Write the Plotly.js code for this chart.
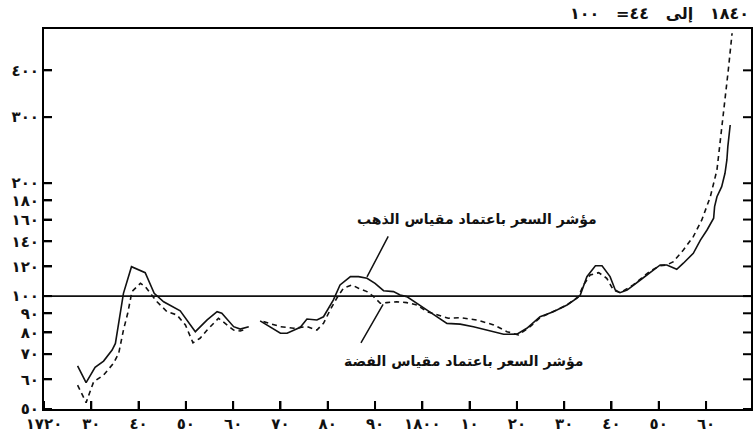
<!DOCTYPE html>
<html>
<head>
<meta charset="utf-8">
<script src="https://cdn.plot.ly/plotly-3.0.1.min.js"></script>
<style>
  html, body { margin: 0; padding: 0; background: #fff; }
  #chart { width: 754px; height: 443px; }
</style>
</head>
<body>
<div id="chart"></div>
<script>
// ---- data ----
const goldYears = [1727.1, 1728.9, 1730.8, 1732.6, 1734.4, 1735.1, 1736.8, 1738.5, 1741.4, 1743.3, 1745.3, 1748.1, 1748.8, 1752.0, 1754.5, 1756.6, 1757.6, 1760.1, 1761.5, 1763.3,
  1764.5,
  1765.7, 1767.8, 1770.0, 1771.4, 1774.2, 1775.6, 1777.7, 1779.1, 1781.2, 1782.6, 1784.8, 1786.5, 1788.3, 1790.0, 1791.8, 1793.9, 1795.3, 1796.7, 1798.9,
  1801.0, 1805.2, 1808.0, 1810.8, 1817.2, 1820.0, 1822.1, 1824.9, 1827.7, 1830.6, 1832.7, 1833.4, 1834.8, 1836.6, 1838.0, 1839.7, 1840.8, 1841.8, 1843.3,
  1846.1, 1848.9, 1850.3, 1851.7, 1853.8, 1855.2, 1857.3, 1858.8, 1860.2, 1861.6, 1861.8, 1862.3, 1863.3, 1864.0, 1864.4, 1864.6, 1864.9, 1865.1];
const goldValues = [65.2, 58.8, 64.6, 67.1, 71.8, 74.8, 101.7, 119.8, 115.5, 101.7, 96.6, 92.2, 91.4, 80.4, 86.4, 90.9, 90.0, 82.9, 81.7, 82.9,
  null,
  85.9, 82.9, 79.6, 79.6, 82.6, 86.9, 86.4, 88.1, 97.7, 107.1, 112.7, 112.7, 111.6, 108.2, 103.4, 102.8, 100.7, 99.7, 95.7,
  91.8, 84.6, 84.2, 82.9, 79.1, 79.2, 82.1, 88.1, 90.9, 94.7, 98.7, 100.7, 112.7, 120.5, 120.5, 112.7, 103.8, 102.1, 103.8,
  110.4, 117.4, 121.1, 121.1, 117.9, 122.4, 130.1, 141.1, 150.1, 161.3, 173.2, 184.1, 195.8, 212.6, 230.7, 250.3, 272.3, 286.0];

const silverYears = [1727.1, 1728.9, 1730.5, 1732.6, 1734.7, 1735.8, 1736.8, 1737.7, 1738.6, 1740.4, 1741.4, 1742.5, 1743.9, 1746.0, 1748.1, 1749.9, 1751.5, 1753.0, 1754.5, 1756.9, 1758.7, 1760.1, 1761.5, 1762.6,
  1764.5,
  1766.4, 1770.0, 1772.8, 1774.2, 1775.6, 1777.7, 1779.1, 1780.5, 1781.9, 1783.3, 1785.1, 1786.5, 1788.3, 1789.7, 1791.1, 1792.5, 1794.6, 1796.7, 1798.9,
  1801.0, 1805.5, 1808.0, 1811.5, 1815.1, 1817.9, 1820.3, 1822.8, 1824.9, 1827.7, 1830.6, 1833.0, 1834.1, 1835.5, 1837.3, 1839.0, 1840.4, 1841.8, 1844.6,
  1848.2, 1850.3, 1851.7, 1853.1, 1855.2, 1857.3, 1859.1, 1860.9, 1862.3, 1863.3, 1864.0, 1864.7, 1865.5];
const silverValues = [57.9, 52.0, 59.1, 61.6, 66.2, 70.4, 81.2, 90.0, 102.8, 108.2, 106.0, 101.7, 96.6, 90.9, 89.1, 83.8, 75.1, 77.2, 81.2, 87.3, 83.8, 81.2, 80.7, 81.7,
  null,
  85.5, 82.9, 82.1, 82.5, 82.9, 81.2, 84.6, 91.8, 98.7, 104.9, 107.1, 104.9, 102.8, 99.7, 95.7, 96.1, 96.6, 96.1, 94.7,
  90.9, 87.3, 87.6, 86.4, 83.8, 80.4, 78.8, 82.9, 87.6, 90.9, 94.7, 99.7, 107.1, 113.9, 115.5, 111.6, 103.8, 102.1, 107.1,
  116.7, 120.5, 121.1, 123.6, 132.7, 144.1, 159.6, 184.1, 216.9, 277.3, 326.8, 400.9, 502.2];

const baseYears = [1720, 1870];
const baseValues = [100, 100];

const xTickVals = [1720, 1730, 1740, 1750, 1760, 1770, 1780, 1790, 1800, 1810, 1820, 1830, 1840, 1850, 1860];
const xTickText = ['١٧٢٠', '٣٠', '٤٠', '٥٠', '٦٠', '٧٠', '٨٠', '٩٠', '١٨٠٠', '١٠', '٢٠', '٣٠', '٤٠', '٥٠', '٦٠'];
const yTickVals = [50, 60, 70, 80, 90, 100, 120, 140, 160, 180, 200, 300, 400];
const yTickText = ['٥٠', '٦٠', '٧٠', '٨٠', '٩٠', '١٠٠', '١٢٠', '١٤٠', '١٦٠', '١٨٠', '٢٠٠', '٣٠٠', '٤٠٠'];

const titleText = '١٨٤٠\u00A0\u00A0 إلى\u00A0\u00A0 ٤٤=\u00A0\u00A0 ١٠٠';
const goldLabel = 'مؤشر السعر باعتماد مقياس الذهب';
const silverLabel = 'مؤشر السعر باعتماد مقياس الفضة';

// ---- chart ----
const FONT = 'DejaVu Sans, Noto Sans, sans-serif';
const W = 754, H = 443;
const M = { l: 44, r: 3, t: 29, b: 34 };
const xRange = [1720, 1869.5];
const yRange = [1.699, 2.7123];

// inward tick marks, placed at the tick values (length 8px expressed as a paper fraction)
const TICK = 8;
const fx = TICK / (W - M.l - M.r);
const fy = TICK / (H - M.t - M.b);
const tickLine = { color: 'black', width: 2 };
const tickShapes = [].concat(
  xTickVals.map(v => ({ type: 'line', xref: 'x', yref: 'paper', x0: v, x1: v, y0: 0, y1: fy, line: tickLine, layer: 'above' })),
  yTickVals.map(v => ({ type: 'line', xref: 'paper', yref: 'y', x0: 0, x1: fx, y0: v, y1: v, line: tickLine, layer: 'above' })),
  yTickVals.map(v => ({ type: 'line', xref: 'paper', yref: 'y', x0: 1 - fx, x1: 1, y0: v, y1: v, line: tickLine, layer: 'above' }))
);

const traces = [
  { x: goldYears, y: goldValues, type: 'scatter', mode: 'lines', connectgaps: false,
    line: { color: '#111', width: 1.6 }, hoverinfo: 'skip' },
  { x: silverYears, y: silverValues, type: 'scatter', mode: 'lines', connectgaps: false,
    line: { color: '#111', width: 1.6, dash: '5px,4px' }, hoverinfo: 'skip' },
  { x: baseYears, y: baseValues, type: 'scatter', mode: 'lines',
    line: { color: '#111', width: 1.6 }, hoverinfo: 'skip' }
];

const layout = {
  width: W, height: H,
  margin: M,
  paper_bgcolor: '#ffffff',
  plot_bgcolor: 'rgba(0,0,0,0)',
  showlegend: false,
  font: { family: FONT, color: '#111' },
  xaxis: {
    range: xRange, tickmode: 'array', tickvals: xTickVals, ticktext: xTickText,
    showgrid: false, zeroline: false, showline: true, linecolor: 'black', linewidth: 2, mirror: true,
    ticks: 'inside', ticklen: 8, tickwidth: 2, tickcolor: 'black',
    tickfont: { family: FONT, size: 15, weight: 'bold', color: '#111' }
  },
  yaxis: {
    type: 'log', range: yRange, tickmode: 'array', tickvals: yTickVals, ticktext: yTickText,
    showgrid: false, zeroline: false, showline: true, linecolor: 'black', linewidth: 2, mirror: true,
    ticks: 'inside', ticklen: 8, tickwidth: 2, tickcolor: 'black',
    tickfont: { family: FONT, size: 15, weight: 'bold', color: '#111' }
  },
  shapes: tickShapes,
  annotations: [
    { text: '<b>' + titleText + '</b>', xref: 'paper', yref: 'paper', x: 1, y: 1.042, xanchor: 'right', yanchor: 'middle',
      showarrow: false, font: { family: FONT, size: 16, color: '#111' } },
    { text: '<b>' + goldLabel + '</b>', xref: 'paper', yref: 'paper', x: 0.612, y: 0.5, xanchor: 'center', yanchor: 'middle',
      showarrow: false, font: { family: FONT, size: 14, color: '#111' } },
    { text: '<b>' + silverLabel + '</b>', xref: 'paper', yref: 'paper', x: 0.593, y: 0.124, xanchor: 'center', yanchor: 'middle',
      showarrow: false, font: { family: FONT, size: 14, color: '#111' } },
    { text: '', xref: 'x', yref: 'y', x: 1788.3, y: Math.log10(112.5), ax: 22, ay: -42,
      showarrow: true, arrowhead: 0, arrowwidth: 1.5, arrowcolor: '#111', standoff: 0 },
    { text: '', xref: 'x', yref: 'y', x: 1791.7, y: Math.log10(95), ax: -23, ay: 40,
      showarrow: true, arrowhead: 0, arrowwidth: 1.5, arrowcolor: '#111', standoff: 0 }
  ]
};

Plotly.newPlot('chart', traces, layout, { displayModeBar: false });
</script>
</body>
</html>
